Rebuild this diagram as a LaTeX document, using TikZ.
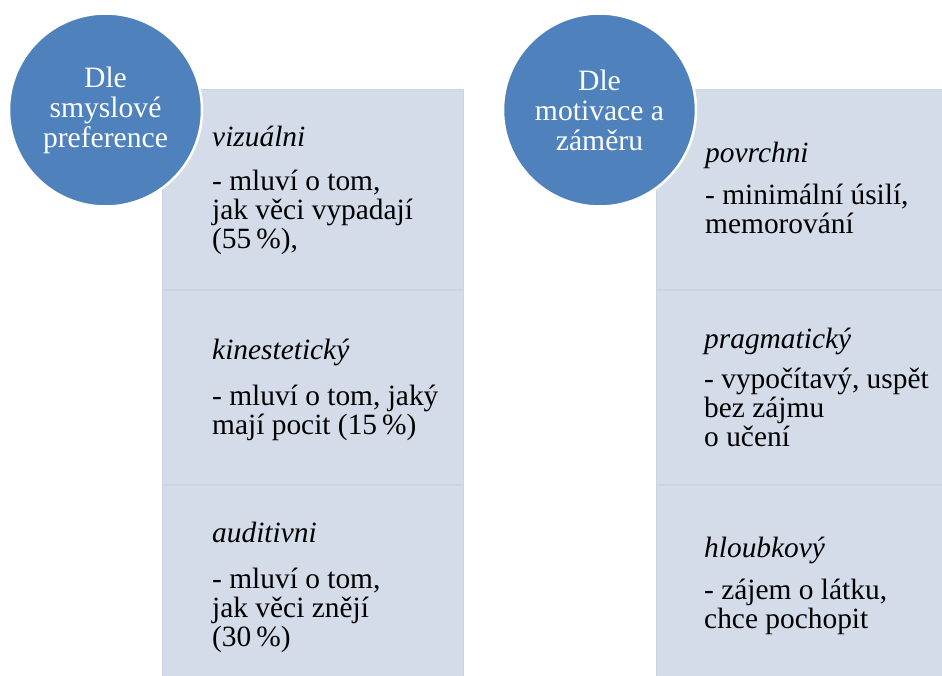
\documentclass[tikz,border=0pt]{standalone}
\usepackage{fontspec}
\setmainfont{Liberation Serif}
\definecolor{circblue}{HTML}{4F81BD}
\definecolor{boxfill}{HTML}{D4DBE9}
\definecolor{boxedge}{HTML}{CBD4E5}
\begin{document}
\begin{tikzpicture}[x=1pt,y=-1pt,
  sect/.style={rectangle, fill=boxfill, draw=boxedge, line width=1.2pt, inner sep=0pt, anchor=north west},
  txt/.style={anchor=north west, inner sep=0pt, align=left, font=\fontsize{29.4}{29}\selectfont, text=black},
  circ/.style={circle, minimum size=193pt, inner sep=0pt, fill=circblue, draw=white, line width=2.5pt, text=white, align=center, font=\fontsize{29.6}{30}\selectfont}]
\useasboundingbox (0,0) rectangle (942,675);
\clip (0,0) rectangle (942,675);
\fill[white] (0,0) rectangle (942,675);
% left column
\node[sect, minimum width=301pt, minimum height=200pt] (L1) at (162,89) {};
\node[sect, minimum width=301pt, minimum height=194pt] (L2) at (162,290) {};
\node[sect, minimum width=301pt, minimum height=200pt] (L3) at (162,485) {};
% right column
\node[sect, minimum width=300pt, minimum height=200pt] (R1) at (656,89) {};
\node[sect, minimum width=300pt, minimum height=194pt] (R2) at (656,290) {};
\node[sect, minimum width=300pt, minimum height=200pt] (R3) at (656,485) {};
% texts
\node[txt] (tL1) at (212,125.7) {\strut\textit{vizuálni}\\[14pt]- mluví o tom,\\jak věci vypadají\\(55\,\%),};
\node[txt] (tL2) at (212,338.7) {\strut\textit{kinestetický}\\[16pt]- mluví o tom, jaký\\mají pocit (15\,\%)};
\node[txt] (tL3) at (212,521.7) {\strut\textit{auditivni}\\[16pt]- mluví o tom,\\jak věci znějí\\(30\,\%)};
\node[txt] (tR1) at (705,141.7) {\strut\textit{povrchni}\\[12pt]- minimální úsilí,\\memorování};
\node[txt] (tR2) at (704,327.7) {\strut\textit{pragmatický}\\[10pt]- vypočítavý, uspět\\bez zájmu\\o učení};
\node[txt] (tR3) at (704,536.7) {\strut\textit{hloubkový}\\[12pt]- zájem o látku,\\chce pochopit};
% circles
\node[circ] (C1) at (105.5,110) {Dle\\smyslové\\preference};
\node[circ] (C2) at (599.5,110) {Dle\\motivace a\\záměru};
\end{tikzpicture}
\end{document}
